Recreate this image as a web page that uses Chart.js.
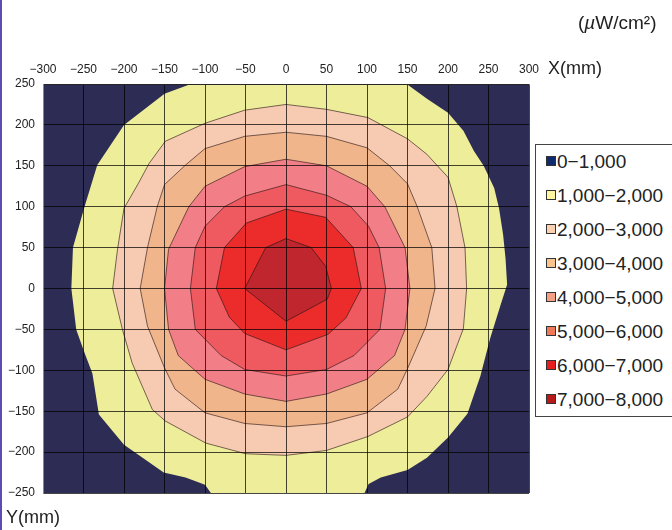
<!DOCTYPE html>
<html lang="ja">
<head>
  <meta charset="UTF-8" />
  <title>照度分布</title>
  <script src="https://cdn.jsdelivr.net/npm/chart.js@4.4.1/dist/chart.umd.min.js"></script>
  <style>
    body { margin: 0; width: 672px; height: 530px; overflow: hidden; background: #fff; position: relative;
           font-family: "Liberation Sans", Arial, sans-serif; color: #222; }
    #borda { position: absolute; left: 0; top: 0; width: 2px; height: 530px; background: #5b4bb4; }
    #grafico { position: absolute; left: 0; top: 0; }
    .txt { position: absolute; line-height: 1; white-space: nowrap; }
    #unidade { left: 578px; top: 13px; font-size: 19px; }
    #unidade i { font-style: italic; }
    #eixoX { left: 548px; top: 58.5px; font-size: 18px; }
    #eixoY { left: 6px; top: 508px; font-size: 18px; }
    #legenda { position: absolute; left: 535px; top: 144px; width: 160px; height: 273px; border: 1px solid #444; box-sizing: border-box; background: #fff; }
    #legenda .item { position: absolute; left: 10px; height: 19px; font-size: 19px; line-height: 1; white-space: nowrap; }
    #legenda .quad { position: absolute; left: 0; top: 4px; width: 8px; height: 8px; border: 1px solid #333; }
    #legenda .rot { position: absolute; left: 11px; top: 0; }
  </style>
</head>
<body>
  <div id="borda"></div>
  <canvas id="grafico" width="672" height="530"></canvas>
  <div class="txt" id="unidade">(<i>µ</i>W/cm²)</div>
  <div class="txt" id="eixoX">X(mm)</div>
  <div class="txt" id="eixoY">Y(mm)</div>
  <div id="legenda"></div>

  <script>
    // faixas (µW/cm²)
    const levelLabels = ["0−1,000", "1,000−2,000", "2,000−3,000", "3,000−4,000",
                         "4,000−5,000", "5,000−6,000", "6,000−7,000", "7,000−8,000"];
    const mapColors = ["#2c2c55", "#eeee9a", "#f6cbb1", "#f1b58c", "#f27f87", "#ef5a60", "#ec2b2b", "#bf262e"];
    const legendColors = ["#102a6e", "#fff6a0", "#fbd0b0", "#f9c48e", "#f4a085", "#ef7858", "#e61e1e", "#b81a1a"];

    // contornos [x(mm), y(mm)]
    const c1000 = [[-112,252],[-100,257],[-50,266],[0,270],[50,268],[100,262],[140,254],[149,250],[174,232],[200,215],
      [219,193],[232,168],[244,150],[257,123],[263,98],[268,66],[271,37],[273,5],[265,-20],[252,-61],[240,-107],
      [224,-153],[200,-182],[174,-207],[150,-222],[117,-231],[102,-239],[96,-252],[50,-262],[0,-265],[-50,-262],
      [-92,-251],[-100,-240],[-124,-231],[-151,-225],[-200,-191],[-231,-154],[-239,-104],[-249,-78],[-259,-50],
      [-265,0],[-263,50],[-249,99],[-233,151],[-200,200],[-150,238]];
    const c2000 = [[0,225],[50,219],[101,209],[150,183],[174,164],[200,136],[211,100],[221,50],[223,0],[219,-49],
      [211,-70],[200,-99],[174,-132],[150,-157],[101,-181],[50,-198],[0,-204],[-50,-202],[-99,-189],[-149,-162],
      [-165,-148],[-190,-91],[-202,-50],[-214,0],[-208,48],[-200,98],[-182,129],[-169,153],[-149,180],[-100,202],[-51,218]];
    const c3000 = [[0,191],[50,186],[100,172],[128,150],[150,128],[162,100],[180,50],[184,0],[173,-46],[150,-98],
      [138,-123],[100,-152],[50,-165],[0,-169],[-51,-165],[-100,-152],[-137,-123],[-150,-97],[-171,-46],[-180,0],
      [-171,50],[-159,100],[-150,127],[-124,151],[-100,171],[-51,186]];
    const c4000 = [[0,158],[50,150],[100,125],[122,100],[147,50],[153,0],[147,-50],[134,-82],[100,-111],[50,-129],
      [0,-138],[-51,-129],[-100,-111],[-133,-82],[-145,-50],[-150,0],[-145,48],[-120,100],[-100,125],[-51,149]];
    const c5000 = [[0,127],[50,114],[80,100],[102,76],[115,50],[123,0],[116,-50],[84,-82],[50,-99],[0,-107],
      [-51,-99],[-80,-82],[-112,-50],[-118,0],[-112,50],[-100,76],[-76,100],[-51,113]];
    const c6000 = [[0,97],[49,87],[83,50],[93,0],[74,-36],[52,-56],[0,-75],[-51,-55],[-70,-35],[-86,0],[-76,50],[-49,80]];
    const c7000 = [[0,61],[31,50],[49,27],[56,0],[51,-13],[0,-40],[-51,0],[-25,50]];

    const contours = [c1000, c2000, c3000, c4000, c5000, c6000, c7000];

    // legenda
    const legenda = document.getElementById("legenda");
    levelLabels.forEach((txt, i) => {
      const item = document.createElement("div");
      item.className = "item";
      item.style.top = (7.4 + i * 33.9) + "px";
      item.innerHTML = `<span class="quad" style="background:${legendColors[i]}"></span><span class="rot">${txt}</span>`;
      legenda.appendChild(item);
    });

    // fundo = faixa 0-1,000
    const fundo = {
      id: "fundo",
      beforeDatasetsDraw(chart) {
        const { ctx, chartArea: a } = chart;
        ctx.save();
        ctx.fillStyle = mapColors[0];
        ctx.fillRect(a.left, a.top, a.right - a.left, a.bottom - a.top);
        ctx.restore();
      }
    };

    // o primeiro dataset fica por cima, então o mais interno vai primeiro
    const datasets = contours.map((pts, i) => ({
      label: levelLabels[i + 1],
      data: pts.concat([pts[0]]).map(p => ({ x: p[0], y: p[1] })),
      showLine: true,
      fill: "shape",
      backgroundColor: mapColors[i + 1],
      borderColor: i === 0 ? "rgba(0,0,0,0)" : "rgba(40,20,20,0.62)",
      borderWidth: 1,
      pointRadius: 0,
      tension: 0
    })).reverse();

    const minus = v => String(v).replace("-", "−");

    new Chart(document.getElementById("grafico"), {
      type: "scatter",
      data: { datasets },
      plugins: [fundo],
      options: {
        responsive: false,
        animation: false,
        events: [],
        layout: { padding: { left: 0, top: 0, right: 143, bottom: 37 } },
        plugins: { legend: { display: false }, tooltip: { enabled: false } },
        scales: {
          x: {
            type: "linear", position: "top", min: -300, max: 300,
            ticks: { stepSize: 50, padding: 7, color: "#222", maxRotation: 0, autoSkip: false,
                     font: { size: 12, family: "Liberation Sans" }, callback: minus },
            grid: { color: "rgba(0,0,0,0.72)", drawTicks: false, z: 1 },
            border: { color: "#888", z: 1 },
            afterFit(s) { s.height = 84; }
          },
          y: {
            type: "linear", min: -250, max: 250,
            ticks: { stepSize: 50, padding: 8, color: "#222", autoSkip: false,
                     font: { size: 12, family: "Liberation Sans" }, callback: minus },
            grid: { color: "rgba(0,0,0,0.72)", drawTicks: false, z: 1 },
            border: { color: "#888", z: 1 },
            afterFit(s) { s.width = 43; }
          }
        }
      }
    });
  </script>
</body>
</html>
